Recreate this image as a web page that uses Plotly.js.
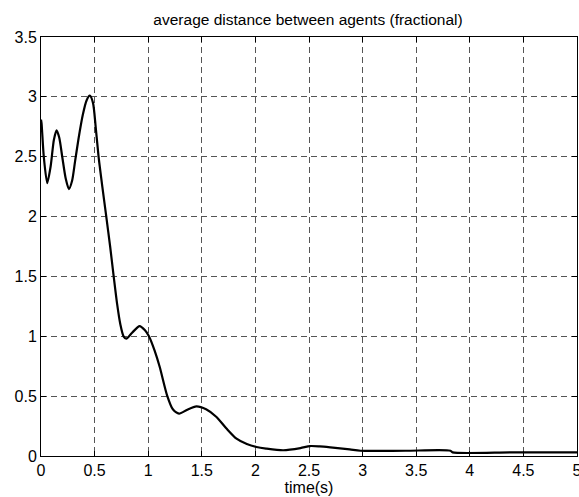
<!DOCTYPE html>
<html><head><meta charset="utf-8">
<script src="https://cdn.plot.ly/plotly-3.0.1.min.js"></script>
<style>html,body{margin:0;padding:0;background:#fff}#chart{width:579px;height:497px}</style>
</head><body><div id="chart"></div>
<script>
const timeS = [0, 0.005, 0.026, 0.058, 0.09, 0.12, 0.145, 0.17, 0.198, 0.23, 0.26, 0.29, 0.316, 0.35, 0.39, 0.425, 0.455, 0.485, 0.51, 0.537, 0.572, 0.609, 0.645, 0.678, 0.71, 0.74, 0.77, 0.796, 0.85, 0.92, 0.97, 1.007, 1.06, 1.107, 1.176, 1.23, 1.288, 1.36, 1.45, 1.54, 1.637, 1.73, 1.824, 1.92, 2.01, 2.1, 2.26, 2.42, 2.51, 2.6, 2.7, 2.88, 2.98, 3.4, 3.82, 3.84, 4.4, 5.0];
const avgDist = [2.81, 2.78, 2.5, 2.28, 2.42, 2.64, 2.72, 2.66, 2.5, 2.32, 2.23, 2.3, 2.45, 2.65, 2.85, 2.97, 3.01, 2.95, 2.75, 2.5, 2.25, 2.0, 1.75, 1.5, 1.27, 1.1, 1.0, 0.98, 1.03, 1.085, 1.05, 1.0, 0.88, 0.745, 0.507, 0.39, 0.354, 0.385, 0.415, 0.39, 0.326, 0.23, 0.145, 0.1, 0.075, 0.062, 0.048, 0.066, 0.083, 0.08, 0.072, 0.055, 0.044, 0.044, 0.044, 0.03, 0.03, 0.03];
const xTicks = [0, 0.5, 1, 1.5, 2, 2.5, 3, 3.5, 4, 4.5, 5];
const yTicks = [0, 0.5, 1, 1.5, 2, 2.5, 3, 3.5];

const fontBase = {family: 'Arial, Liberation Sans', size: 16, color: '#000'};
const axisCommon = {
  showline: true, linecolor: '#000', linewidth: 1, mirror: 'ticks',
  ticks: 'inside', ticklen: 5, tickcolor: '#000',
  showgrid: true, gridcolor: '#555', gridwidth: 1, griddash: '6px,4px',
  zeroline: false, tickfont: fontBase
};
Plotly.newPlot('chart', [{
  x: timeS, y: avgDist, type: 'scatter', mode: 'lines',
  line: {color: '#000', width: 2.2, shape: 'spline', smoothing: 0.7}
}], {
  width: 579, height: 497,
  margin: {l: 41, r: 2, t: 37, b: 41},
  paper_bgcolor: '#fff', plot_bgcolor: '#fff',
  showlegend: false,
  title: {text: 'average distance between agents (fractional)', font: Object.assign({}, fontBase, {size: 15.5}), x: 0.532, xanchor: 'center', y: 0.961, yanchor: 'middle'},
  xaxis: Object.assign({}, axisCommon, {range: [0, 5], tickvals: xTicks, ticktext: xTicks.map(String), ticklabeloverflow: 'allow',
    title: {text: 'time(s)', font: fontBase, standoff: 0}}),
  yaxis: Object.assign({}, axisCommon, {range: [0, 3.5], tickvals: yTicks, ticktext: yTicks.map(String)})
}, {displayModeBar: false, staticPlot: true});
</script></body></html>
